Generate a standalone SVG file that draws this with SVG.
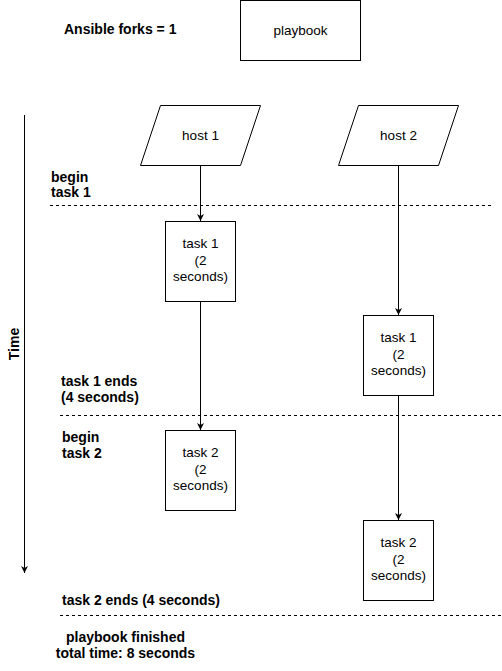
<svg xmlns="http://www.w3.org/2000/svg" width="502" height="671" viewBox="0 0 502 671">
<defs>
<style>
.n{fill:#fff;stroke:#000;stroke-width:1}
.t{font-family:"Liberation Sans",Arial,sans-serif;font-size:13.5px;fill:#000;text-anchor:middle}
.b{font-family:"Liberation Sans",Arial,sans-serif;font-size:14px;font-weight:bold;fill:#000}
.c{stroke:#000;stroke-width:1;fill:none}
.d{stroke:#000;stroke-width:1;stroke-dasharray:3 3;fill:none}
</style>
<marker id="a" markerWidth="8" markerHeight="8" refX="7" refY="4" orient="auto" markerUnits="userSpaceOnUse">
<path d="M0,0.5 L7,4 L0,7.5 L2,4 Z" fill="#000"/>
</marker>
</defs>
<rect width="502" height="671" fill="#fff"/>
<g id="labels">
<text class="b" x="64" y="34">Ansible forks = 1</text>
<text class="b" x="51" y="181.5">begin</text>
<text class="b" x="51" y="197">task 1</text>
<text class="b" x="61" y="386">task 1 ends</text>
<text class="b" x="61" y="402">(4 seconds)</text>
<text class="b" x="62" y="441.5">begin</text>
<text class="b" x="62" y="457.5">task 2</text>
<text class="b" x="62" y="605">task 2 ends (4 seconds)</text>
<text class="b" x="125.5" y="641.5" text-anchor="middle">playbook finished</text>
<text class="b" x="125.5" y="657.5" text-anchor="middle">total time: 8 seconds</text>
<text class="b" x="0" y="0" text-anchor="middle" transform="translate(19,344) rotate(-90)">Time</text>
</g>
<g id="connectors">
<line class="d" x1="50" y1="205.5" x2="491" y2="205.5"/>
<line class="d" x1="60" y1="415.5" x2="502" y2="415.5"/>
<line class="d" x1="60" y1="615.5" x2="502" y2="615.5"/>
<line class="c" x1="24.5" y1="115" x2="24.5" y2="573" stroke="#666" stroke-width="1.5" marker-end="url(#a)"/>
<line class="c" x1="200.5" y1="165" x2="200.5" y2="221" marker-end="url(#a)"/>
<line class="c" x1="200.5" y1="301.5" x2="200.5" y2="430" marker-end="url(#a)"/>
<line class="c" x1="398.5" y1="165" x2="398.5" y2="315" marker-end="url(#a)"/>
<line class="c" x1="398.5" y1="395.5" x2="398.5" y2="520" marker-end="url(#a)"/>
</g>
<g id="playbook">
<rect class="n" x="240.5" y="0.5" width="120" height="60"/>
<text class="t" x="300.5" y="34.5">playbook</text>
</g>
<g id="host1">
<polygon class="n" points="160.5,105.5 260.5,105.5 240.5,165.5 140.5,165.5"/>
<text class="t" x="200.5" y="139.5">host 1</text>
</g>
<g id="host2">
<polygon class="n" points="358.5,105.5 458.5,105.5 438.5,165.5 338.5,165.5"/>
<text class="t" x="398.5" y="139.5">host 2</text>
</g>
<g id="h1task1">
<rect class="n" x="165.5" y="221.5" width="70" height="80"/>
<text class="t" x="200.5" y="248">task 1</text>
<text class="t" x="200.5" y="264.7">(2</text>
<text class="t" x="200.5" y="281.4">seconds)</text>
</g>
<g id="h1task2">
<rect class="n" x="165.5" y="430.5" width="70" height="80"/>
<text class="t" x="200.5" y="457">task 2</text>
<text class="t" x="200.5" y="473.7">(2</text>
<text class="t" x="200.5" y="490.4">seconds)</text>
</g>
<g id="h2task1">
<rect class="n" x="363.5" y="315.5" width="70" height="80"/>
<text class="t" x="398.5" y="342">task 1</text>
<text class="t" x="398.5" y="358.7">(2</text>
<text class="t" x="398.5" y="375.4">seconds)</text>
</g>
<g id="h2task2">
<rect class="n" x="363.5" y="520.5" width="70" height="80"/>
<text class="t" x="398.5" y="547">task 2</text>
<text class="t" x="398.5" y="563.7">(2</text>
<text class="t" x="398.5" y="580.4">seconds)</text>
</g>
</svg>
